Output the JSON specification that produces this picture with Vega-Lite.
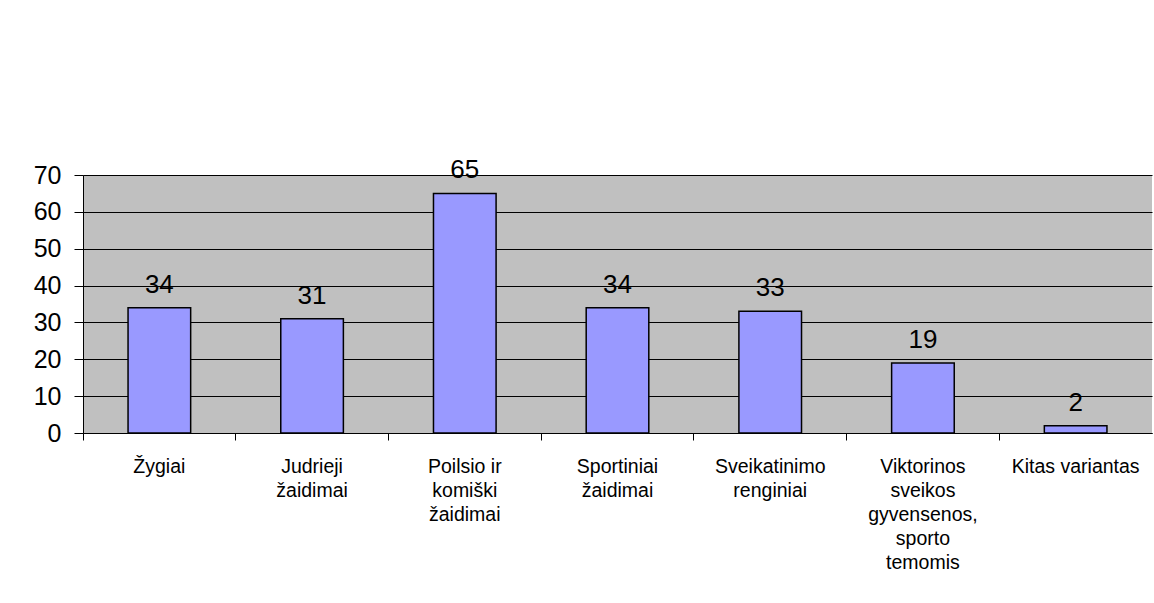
{
  "$schema": "https://vega.github.io/schema/vega-lite/v6.json",
  "autosize": "none",
  "width": 1069,
  "height": 258,
  "padding": {"left": 83, "top": 175, "right": 2, "bottom": 170},
  "background": "white",
  "config": {
    "font": "Liberation Sans",
    "view": {"fill": "#C0C0C0", "stroke": null}
  },
  "data": {
    "values": [
      {"category": "Žygiai", "value": 34},
      {"category": "Judrieji|žaidimai", "value": 31},
      {"category": "Poilsio ir|komiški|žaidimai", "value": 65},
      {"category": "Sportiniai|žaidimai", "value": 34},
      {"category": "Sveikatinimo|renginiai", "value": 33},
      {"category": "Viktorinos|sveikos|gyvensenos,|sporto|temomis", "value": 19},
      {"category": "Kitas variantas", "value": 2}
    ]
  },
  "encoding": {
    "x": {
      "field": "category",
      "type": "nominal",
      "sort": null,
      "scale": {"paddingInner": 0, "paddingOuter": 0},
      "axis": {
        "title": null,
        "labelAngle": 0,
        "labelExpr": "split(datum.value, '|')",
        "labelFontSize": 19.5,
        "labelLineHeight": 24,
        "labelColor": "black",
        "labelPadding": 17,
        "labelBaseline": "top",
        "tickSize": 7,
        "tickColor": "black",
        "domainColor": "black",
        "bandPosition": 0,
        "grid": false
      }
    },
    "y": {
      "field": "value",
      "type": "quantitative",
      "scale": {"domain": [0, 70]},
      "axis": {
        "title": null,
        "values": [0, 10, 20, 30, 40, 50, 60, 70],
        "labelFontSize": 25,
        "labelColor": "black",
        "labelPadding": 13,
        "tickSize": 9,
        "tickColor": "black",
        "domainColor": "black",
        "grid": true,
        "gridColor": "black",
        "gridOpacity": 1,
        "gridWidth": 1
      }
    }
  },
  "layer": [
    {
      "mark": {"type": "bar", "color": "#9999FF", "stroke": "black", "strokeWidth": 1.5, "width": {"band": 0.41}}
    },
    {
      "mark": {"type": "text", "fontSize": 26, "color": "black", "baseline": "alphabetic", "dy": -15},
      "encoding": {"text": {"field": "value", "type": "quantitative"}}
    }
  ]
}
